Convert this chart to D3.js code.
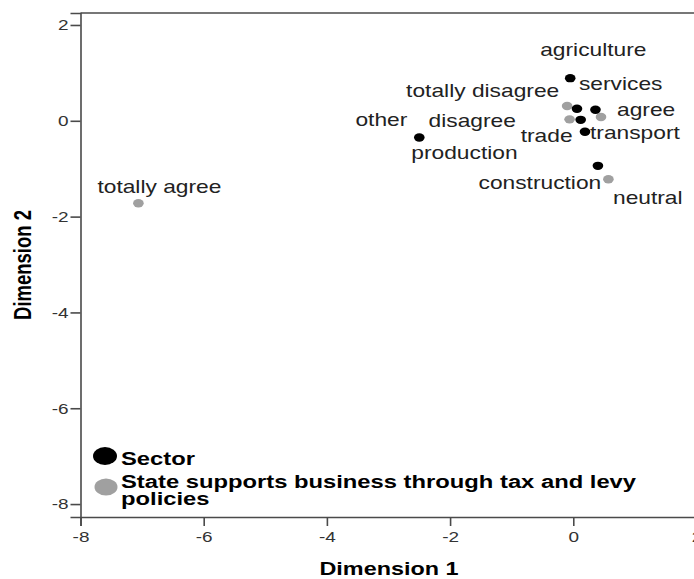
<!DOCTYPE html>
<html>
<head>
<meta charset="utf-8">
<script src="https://cdn.jsdelivr.net/npm/d3@7"></script>
<style>
  html, body { margin: 0; padding: 0; background: #fff; }
  svg { display: block; }
</style>
</head>
<body>
<svg id="chart" width="694" height="579"></svg>
<script>
// ---- data ----
const sectorCategories = ["agriculture", "services", "other", "trade", "transport", "production", "construction"];
const sectorDim1 = [-0.05, 0.06, 0.36, 0.12, 0.19, -2.50, 0.40];
const sectorDim2 = [0.89, 0.25, 0.23, 0.02, -0.23, -0.35, -0.94];

const opinionCategories = ["totally disagree", "agree", "disagree", "neutral", "totally agree"];
const opinionDim1 = [-0.10, 0.45, -0.06, 0.57, -7.06];
const opinionDim2 = [0.31, 0.08, 0.03, -1.22, -1.72];

const xTicks = [-8, -6, -4, -2, 0, 2];
const yTicks = [-8, -6, -4, -2, 0, 2];
const xTitle = "Dimension 1";
const yTitle = "Dimension 2";
const legendLabels = ["Sector", "State supports business through tax and levy policies"];

// ---- layout / style (not data) ----
const SX = 1.265; // horizontal stretch of the original picture
const colors = { sector: "#000000", opinion: "#a0a0a0" };
const labelOffsets = {
  "agriculture": [-30, -22.6], "services": [2, -19], "other": [-240, 16.7],
  "trade": [-60, 21.7], "transport": [5, 7.3], "production": [-8, 21.6],
  "construction": [-119.4, 23.3], "totally disagree": [-161, -9.3],
  "agree": [16, -1], "disagree": [-141, 7.4], "neutral": [4.6, 24.7],
  "totally agree": [-41, -10.3]
};

const svg = d3.select("#chart");
svg.append("rect").attr("width", 694).attr("height", 579).attr("fill", "#fff");

const x = d3.scaleLinear().domain([-8, 2.2]).range([80.5, 708.8]);
const y = d3.scaleLinear().domain([-8.27, 2.25]).range([517, 13]);

const axisColor = "#4a4a4a";
const font = "'Liberation Sans', Arial, sans-serif";
const fmt = d => String(d);

// frame top line
svg.append("line").attr("x1", x(-8)).attr("x2", x(2.2)).attr("y1", y(2.25)).attr("y2", y(2.25))
  .attr("stroke", axisColor).attr("stroke-width", 1.6);

// x axis
const xAxis = d3.axisBottom(x).tickValues(xTicks).tickSize(9).tickPadding(5).tickFormat(fmt);
const gx = svg.append("g").attr("transform", `translate(0,${y(-8.27)})`).call(xAxis);
gx.select(".domain").attr("stroke", axisColor).attr("stroke-width", 1.6);
gx.selectAll(".tick line").attr("stroke", axisColor).attr("stroke-width", 1.6);
gx.selectAll(".tick text")
  .attr("font-family", font).attr("font-size", 15).attr("fill", "#333")
  .each(function () {
    const t = d3.select(this);
    const yy = +t.attr("y");
    t.attr("transform", `translate(0,${yy}) scale(${SX},1)`).attr("y", 0).attr("dy", "0.71em");
  });

// y axis
const yAxis = d3.axisLeft(y).tickValues(yTicks).tickSize(10).tickPadding(2).tickFormat(fmt);
const gy = svg.append("g").attr("transform", `translate(${x(-8)},0)`).call(yAxis);
gy.select(".domain").attr("stroke", axisColor).attr("stroke-width", 1.6);
gy.selectAll(".tick line").attr("stroke", axisColor).attr("stroke-width", 1.6);
gy.selectAll(".tick text")
  .attr("font-family", font).attr("font-size", 15).attr("fill", "#333")
  .each(function () {
    const t = d3.select(this);
    const xx = +t.attr("x");
    t.attr("transform", `translate(${xx},0) scale(${SX},1)`).attr("x", 0);
  });

// axis titles
svg.append("text").text(xTitle)
  .attr("transform", `translate(389,575) scale(${SX},1)`)
  .attr("text-anchor", "middle").attr("font-family", font).attr("font-weight", "bold")
  .attr("font-size", 18.5).attr("fill", "#000");
svg.append("text").text(yTitle)
  .attr("transform", `translate(31,265) scale(${SX},1) rotate(-90)`)
  .attr("text-anchor", "middle").attr("font-family", font).attr("font-weight", "bold")
  .attr("font-size", 18.5).attr("fill", "#000");

// points
const sectorPts = sectorCategories.map((c, i) => ({ name: c, d1: sectorDim1[i], d2: sectorDim2[i], grp: "sector" }));
const opinionPts = opinionCategories.map((c, i) => ({ name: c, d1: opinionDim1[i], d2: opinionDim2[i], grp: "opinion" }));
const allPts = opinionPts.concat(sectorPts);

svg.append("g").selectAll("ellipse").data(allPts).join("ellipse")
  .attr("cx", d => x(d.d1)).attr("cy", d => y(d.d2))
  .attr("rx", 4.2 * SX).attr("ry", 4.2)
  .attr("fill", d => colors[d.grp]);

// labels
svg.append("g").selectAll("text").data(allPts).join("text")
  .text(d => d.name)
  .attr("transform", d => {
    const o = labelOffsets[d.name];
    return `translate(${x(d.d1) + o[0]},${y(d.d2) + o[1]}) scale(${SX},1)`;
  })
  .attr("font-family", font).attr("font-size", 18).attr("fill", "#222");

// legend
const legendMarkers = [colors.sector, colors.opinion];
const legendMarkerPos = [[105, 456, 12, 9], [106, 487, 11.5, 8.6]];
const legendTextY = [465, 488];
const lg = svg.append("g");
legendLabels.forEach((lab, i) => {
  const m = legendMarkerPos[i];
  lg.append("ellipse").attr("cx", m[0]).attr("cy", m[1]).attr("rx", m[2]).attr("ry", m[3])
    .attr("fill", legendMarkers[i]);
  const t = lg.append("text")
    .attr("transform", `translate(121,${legendTextY[i]}) scale(${SX},1)`)
    .attr("font-family", font).attr("font-weight", "bold").attr("font-size", 18.8).attr("fill", "#000");
  const words = lab.split(" ");
  let line = [], lineNo = 0;
  let tspan = t.append("tspan").attr("x", 0).attr("y", 0);
  words.forEach(w => {
    line.push(w);
    tspan.text(line.join(" "));
    if (tspan.node().getComputedTextLength() > 430 && line.length > 1) {
      line.pop();
      tspan.text(line.join(" "));
      line = [w];
      lineNo++;
      tspan = t.append("tspan").attr("x", 0).attr("y", lineNo * 17.5).text(w);
    }
  });
});
</script>
</body>
</html>
